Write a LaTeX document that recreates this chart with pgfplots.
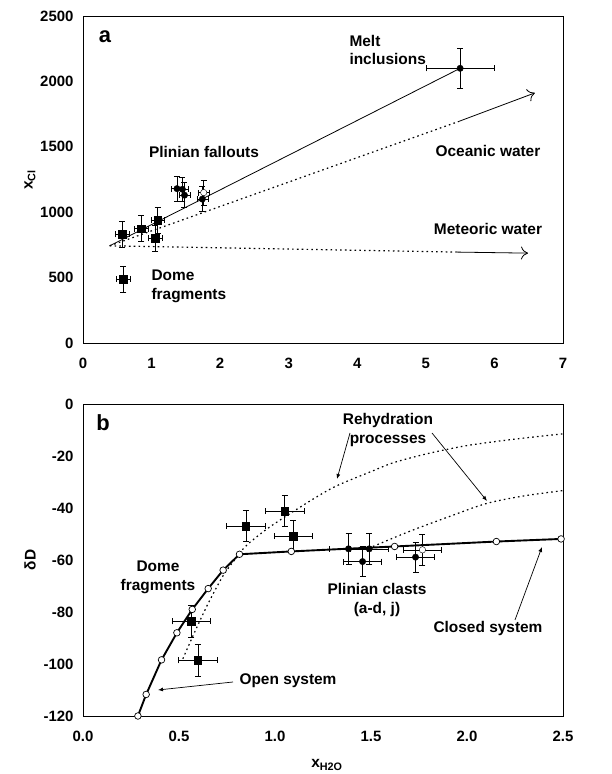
\documentclass[border=0pt]{standalone}
\usepackage{fontspec}
\setmainfont{Liberation Sans}
\usepackage{pgfplots}
\pgfplotsset{compat=1.18}
\usetikzlibrary{arrows.meta}
\begin{document}
\begin{tikzpicture}
\useasboundingbox (0,0) rectangle (612bp,774bp);
\pgfplotsset{
  every axis/.append style={scale only axis, width=480bp, clip=false,
    axis line style={line width=0.6bp},
    major tick length=0pt,
    tick label style={font=\bfseries\fontsize{15}{17}\selectfont},
    xticklabel style={yshift=-12bp},
    yticklabel style={xshift=-6bp}},
  errpt/.style={only marks, black,
    error bars/x dir=both, error bars/x explicit, error bars/y dir=both, error bars/y explicit,
    error bars/error mark=|, error bars/error bar style={line width=0.6bp, black},
    error bars/error mark options={mark size=3bp, line width=0.6bp, black}},
  dotl/.style={black, line width=1.2bp, dash pattern=on 1.6bp off 3.2bp},
}
% ---------------- panel a ----------------
\begin{axis}[at={(83bp,431bp)}, anchor=south west, height=327bp,
  xmin=0, xmax=7, ymin=0, ymax=2500,
  xtick={0,1,2,3,4,5,6,7}, xticklabels={0,1,2,3,4,5,6,7},
  ytick={0,500,1000,1500,2000,2500}, yticklabels={0,500,1000,1500,2000,2500}]
\addplot[black, line width=0.8bp] coordinates {(0.39,743) (5.50,2100)};
\addplot[dotl] coordinates {(0.39,743) (5.47,1692)};
\addplot[black, line width=0.8bp, -{To[length=7bp,width=13bp]}] coordinates {(5.47,1692) (6.59,1912)};
\addplot[dotl] coordinates {(0.39,743) (5.45,695)};
\addplot[black, line width=0.8bp, -{To[length=7bp,width=13bp]}] coordinates {(5.45,695) (6.49,687)};
% dome fragments
\addplot[errpt, mark=square*, mark size=3.8bp] table[x=x, y=y, x error=ex, y error=ey] {
x y ex ey
0.57 830 0.1 100
0.85 875 0.1 100
1.09 940 0.1 100
1.05 800 0.1 100
0.59 490 0.1 100
};
% plinian fallouts
\addplot[errpt, mark=*, mark size=3.2bp] table[x=x, y=y, x error=ex, y error=ey] {
x y ex ey
1.37 1180 0.08 95
1.45 1175 0.08 95
1.48 1130 0.08 95
1.74 1100 0.08 95
};
\addplot[errpt, mark=*, mark size=3.2bp, mark options={fill=white}] table[x=x, y=y, x error=ex, y error=ey] {
x y ex ey
1.76 1150 0.08 95
};
% melt inclusions
\addplot[errpt, mark=*, mark size=3.2bp] table[x=x, y=y, x error=ex, y error=ey] {
x y ex ey
5.50 2100 0.5 150
};
\end{axis}
% ---------------- panel b ----------------
\begin{axis}[at={(83bp,58bp)}, anchor=south west, height=312bp,
  xmin=0, xmax=2.5, ymin=-120, ymax=0,
  xtick={0,0.5,1,1.5,2,2.5}, xticklabels={0.0,0.5,1.0,1.5,2.0,2.5},
  ytick={-120,-100,-80,-60,-40,-20,0}, yticklabels={-120,-100,-80,-60,-40,-20,0}]
\addplot[dotl, smooth] coordinates {(0.52,-98) (0.58,-88) (0.65,-77) (0.73,-66) (0.80,-59) (0.85,-54.5) (0.95,-48.5) (1.05,-43.5) (1.20,-36.5) (1.32,-31.5) (1.50,-26) (1.62,-22.5) (1.80,-19) (2.00,-16) (2.25,-13.5) (2.50,-11.5)};
\addplot[dotl, smooth] coordinates {(1.51,-54.8) (1.70,-49) (1.90,-43.5) (2.10,-38.3) (2.30,-35.3) (2.50,-33.3)};
\addplot[black, line width=1.9bp, mark=*, mark size=3.3bp, mark options={fill=white, line width=0.7bp}] coordinates {(0.286,-120) (0.329,-111.7) (0.409,-98.4) (0.489,-88.0) (0.569,-79.0) (0.652,-71.0) (0.730,-63.9) (0.815,-57.8) (1.085,-56.7) (1.623,-54.8) (2.153,-52.9) (2.49,-51.9)};
% dome fragments
\addplot[errpt, mark=square*, mark size=3.8bp] table[x=x, y=y, x error=ex, y error=ey] {
x y ex ey
0.848 -47.0 0.1 6
1.051 -41.2 0.1 6
1.096 -50.8 0.1 6
0.565 -83.6 0.1 6
0.598 -98.6 0.1 6.3
};
% plinian clasts
\addplot[errpt, mark=*, mark size=3.2bp] table[x=x, y=y, x error=ex, y error=ey] {
x y ex ey
1.383 -55.7 0.1 6
1.491 -55.7 0.1 6
1.456 -60.6 0.1 5.8
1.732 -58.9 0.1 5.8
};
\addplot[errpt, mark=*, mark size=3.2bp, mark options={fill=white}] table[x=x, y=y, x error=ex, y error=ey] {
x y ex ey
1.768 -56.1 0.1 6
};
\end{axis}
% ---------------- annotations ----------------
\begin{scope}[x=1bp, y=-1bp, shift={(0,774bp)}, font=\bfseries\fontsize{15.5}{19}\selectfont]
\node at (105,37) {\fontsize{22}{24}\selectfont a};
\node[anchor=west, align=left] at (346,50) {Melt\\inclusions};
\node at (204,152) {Plinian fallouts};
\node at (488,151) {Oceanic water};
\node at (488,229) {Meteoric water};
\node[anchor=west, align=left] at (148,286) {Dome\\fragments};
\node[rotate=90] at (30,180) {x\textsubscript{Cl}};
% panel b
\node at (103,423) {\fontsize{22}{24}\selectfont b};
\node[align=center] at (388,430) {Rehydration\\processes};
\draw[-{Latex[length=5bp,width=4bp]}, line width=0.7bp] (350,433) -- (337,479);
\draw[-{Latex[length=5bp,width=4bp]}, line width=0.7bp] (432,433) -- (487,501);
\node[align=center] at (158,577) {Dome\\fragments};
\node[align=center] at (377,600) {Plinian clasts\\(a-d, j)};
\node at (488,629) {Closed system};
\draw[-{Latex[length=5bp,width=4bp]}, line width=0.7bp] (515,620) -- (542,547);
\node at (288,681) {Open system};
\draw[-{Latex[length=5bp,width=4bp]}, line width=0.7bp] (233,682) -- (158,690);
\node[rotate=90] at (30,560) {δD};
\node at (327,765) {x\textsubscript{H2O}};
\end{scope}
\end{tikzpicture}
\end{document}
